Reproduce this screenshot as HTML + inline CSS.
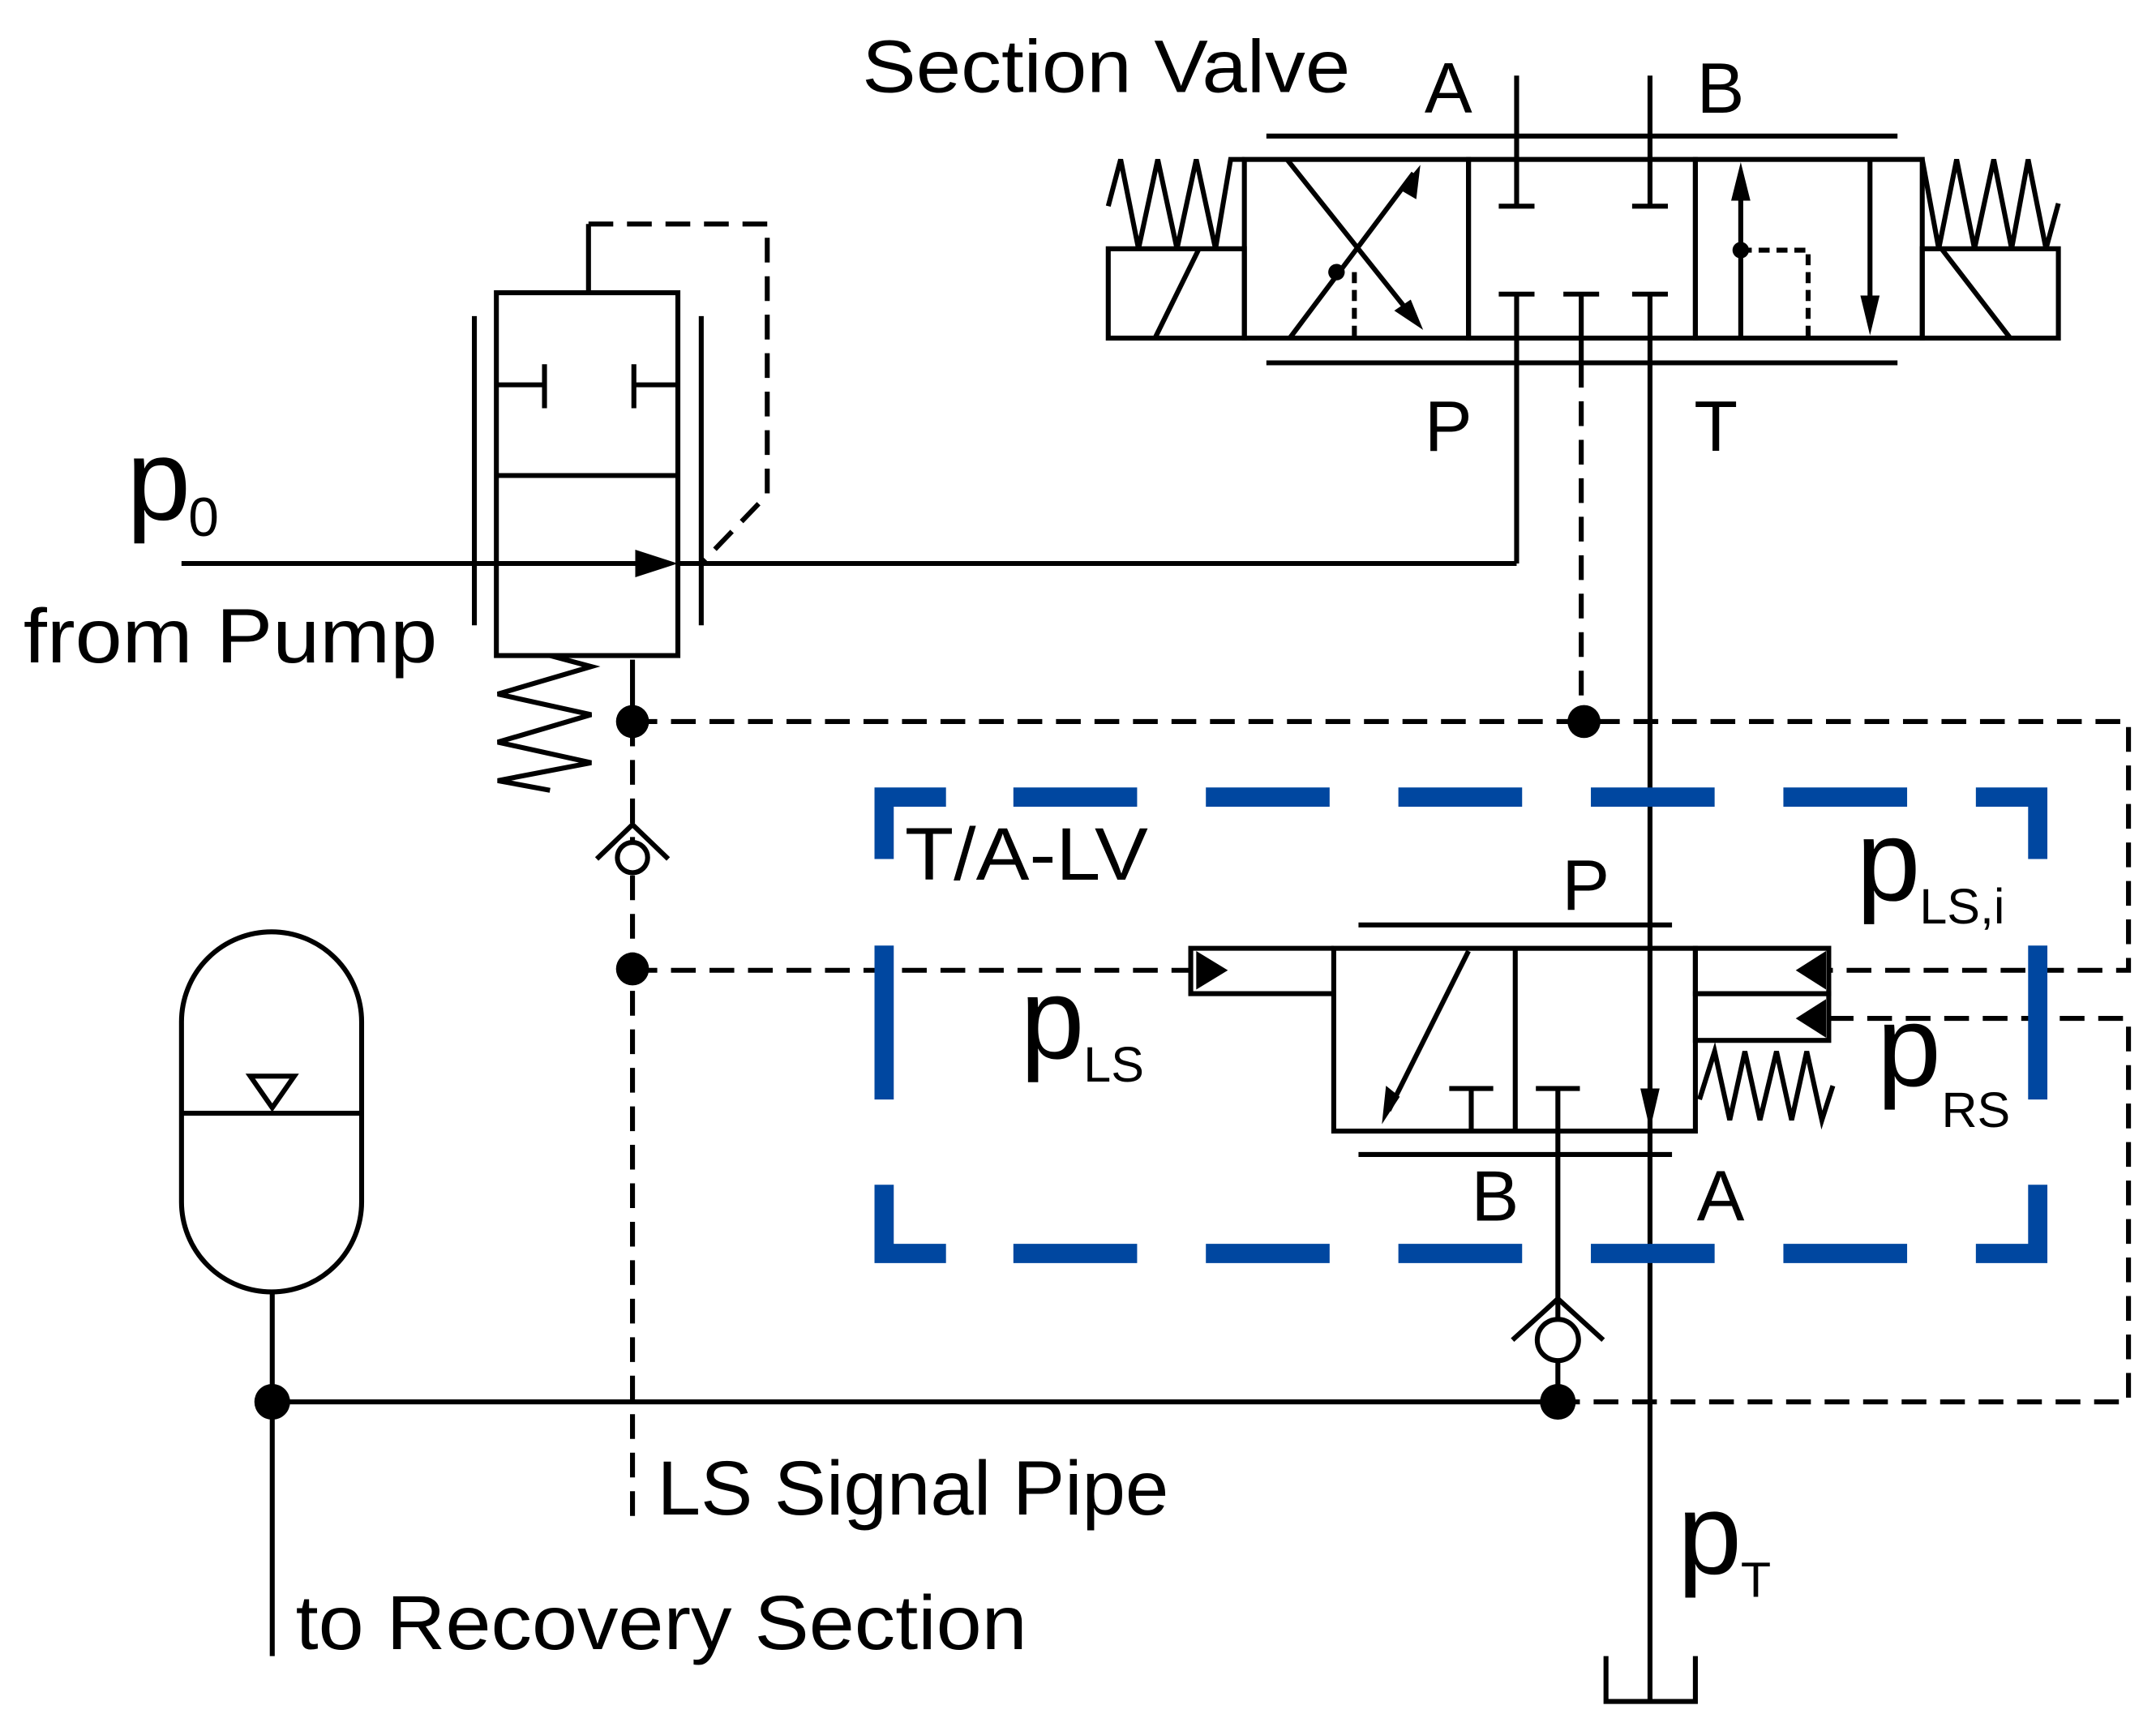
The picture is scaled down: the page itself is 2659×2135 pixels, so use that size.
<!DOCTYPE html>
<html><head><meta charset="utf-8"><style>
html,body{margin:0;padding:0;background:#fff}
svg{display:block}
text{font-family:"Liberation Sans",sans-serif;fill:#000}
</style></head><body>
<svg width="2659" height="2135" viewBox="0 0 1568 1259.5" preserveAspectRatio="none" xmlns="http://www.w3.org/2000/svg">
<g fill="none" stroke="#000" stroke-width="3.6">
<rect x="806" y="181" width="99" height="65"/>
<rect x="905" y="116" width="163" height="130"/>
<rect x="1068" y="116" width="165" height="130"/>
<rect x="1233" y="116" width="165" height="130"/>
<rect x="1398" y="181" width="99" height="65"/>
<polyline points="806,150 815,116 828,181 842,116 856,181 870,116 884,181 895,116 905,116"/>
<line x1="840" y1="246" x2="872" y2="181"/>
<polyline points="1398,116 1410,181 1423,116 1436,181 1450,116 1463,181 1475,116 1488,181 1497,148"/>
<line x1="1412" y1="181" x2="1462" y2="246"/>
<line x1="921" y1="99" x2="1380" y2="99"/>
<line x1="921" y1="264" x2="1380" y2="264"/>
<line x1="1103" y1="55" x2="1103" y2="150"/><line x1="1090" y1="150" x2="1116" y2="150"/>
<line x1="1200" y1="55" x2="1200" y2="150"/><line x1="1187" y1="150" x2="1213" y2="150"/>
<line x1="1103" y1="214" x2="1103" y2="410"/><line x1="1090" y1="214" x2="1116" y2="214"/>
<line x1="1150" y1="214" x2="1150" y2="264"/><line x1="1137" y1="214" x2="1163" y2="214"/>
<line x1="1200" y1="214" x2="1200" y2="1238"/><line x1="1187" y1="214" x2="1213" y2="214"/>
<line x1="936" y1="116" x2="1030" y2="234"/>
<line x1="938" y1="246" x2="1028" y2="126"/>
<line x1="985" y1="198" x2="985" y2="246" stroke-dasharray="8,5"/>
<line x1="1266" y1="130" x2="1266" y2="246"/>
<polyline points="1266,182 1315,182 1315,246" stroke-dasharray="8,5"/>
<line x1="1360" y1="116" x2="1360" y2="232"/>
<rect x="361" y="213" width="132" height="264"/>
<line x1="361" y1="346" x2="493" y2="346"/>
<line x1="428" y1="163" x2="428" y2="213"/>
<line x1="361" y1="280" x2="396" y2="280"/><line x1="396" y1="265" x2="396" y2="297"/>
<line x1="493" y1="280" x2="461" y2="280"/><line x1="461" y1="265" x2="461" y2="297"/>
<line x1="345" y1="230" x2="345" y2="455"/><line x1="510" y1="230" x2="510" y2="455"/>
<line x1="132" y1="410" x2="470" y2="410"/>
<line x1="493" y1="410" x2="1103" y2="410"/>
<polyline points="428,163 558,163 558,360 510,410" stroke-dasharray="18,10"/>
<polyline points="400,477 430,485 362,505 430,520 362,540 430,555 362,568 400,575"/>
<line x1="460" y1="480" x2="460" y2="525"/>
<line x1="460" y1="525" x2="460" y2="1105" stroke-dasharray="18,10"/>
<polyline points="460,525 1548,525 1548,706 1330,706" stroke-dasharray="18,10"/>
<line x1="1150" y1="264" x2="1150" y2="525" stroke-dasharray="18,10"/>
<line x1="460" y1="706" x2="866" y2="706" stroke-dasharray="18,10"/>
<polyline points="1330,741 1548,741 1548,1020 1133,1020" stroke-dasharray="18,10"/>
<polyline points="434,625 460,600 486,625"/>
<rect x="970" y="690" width="263" height="133"/>
<line x1="1102" y1="690" x2="1102" y2="823"/>
<polyline points="970,690 866,690 866,723 970,723"/>
<rect x="1233" y="690" width="97" height="33"/>
<rect x="1233" y="723" width="97" height="34"/>
<polyline points="1236,800 1247,765 1258,815 1269,765 1280,815 1292,765 1303,815 1314,765 1325,815 1333,790"/>
<line x1="988" y1="673" x2="1216" y2="673"/>
<line x1="988" y1="840" x2="1216" y2="840"/>
<line x1="1068" y1="692" x2="1010" y2="808"/>
<line x1="1070" y1="792" x2="1070" y2="823"/><line x1="1054" y1="792" x2="1086" y2="792"/>
<line x1="1133" y1="792" x2="1133" y2="1020"/><line x1="1117" y1="792" x2="1149" y2="792"/>
<polyline points="1100,975 1133,945 1166,975"/>
<rect x="132" y="678" width="131" height="262" rx="65.5" ry="65.5"/>
<line x1="132" y1="810" x2="263" y2="810"/>
<polygon points="182,783 214,783 198,806"/>
<line x1="198" y1="940" x2="198" y2="1205"/>
<line x1="198" y1="1020" x2="1133" y2="1020"/>
<polyline points="1168,1205 1168,1238 1233,1238 1233,1205"/>
</g>
<g fill="none" stroke="#0047a0" stroke-width="14">
<polyline points="643,625 643,580 688,580"/>
<polyline points="1437,580 1482,580 1482,625"/>
<polyline points="643,862 643,912 688,912"/>
<polyline points="1437,912 1482,912 1482,862"/>
<path d="M737 580H827M877 580H967M1017 580H1107M1157 580H1247M1297 580H1387
M737 912H827M877 912H967M1017 912H1107M1157 912H1247M1297 912H1387
M643 688V800M1482 688V800"/>
</g>
<g fill="#000">
<circle cx="972" cy="198" r="6"/>
<circle cx="1266" cy="182" r="6"/>
<polygon points="1035,240 1014,226 1026,218"/>
<polygon points="1033,120 1030,145 1018,138"/>
<polygon points="1266,118 1259,146 1273,146"/>
<polygon points="1360,244 1353,215 1367,215"/>
<polygon points="493,410 462,400 462,420"/>
<circle cx="460" cy="525" r="12"/>
<circle cx="1152" cy="525" r="12"/>
<circle cx="460" cy="705" r="12"/>
<circle cx="198" cy="1020" r="13"/>
<circle cx="1133" cy="1020" r="13"/>
<polygon points="870,692 893,706 870,720"/>
<polygon points="1328,692 1306,706 1328,720"/>
<polygon points="1328,727 1306,741 1328,755"/>
<polygon points="1005,818 1008,790 1018,798"/>
<polygon points="1200,822 1193,792 1207,792"/>
</g>
<circle cx="460" cy="624" r="11" fill="#fff" stroke="#000" stroke-width="3.6"/>
<circle cx="1133" cy="975" r="15" fill="#fff" stroke="#000" stroke-width="3.6"/>
<text x="627" y="67" font-size="54" textLength="355" lengthAdjust="spacingAndGlyphs">Section Valve</text>
<text x="1036" y="82" font-size="52">A</text>
<text x="1234" y="82" font-size="52">B</text>
<text x="1036" y="328" font-size="52">P</text>
<text x="1232" y="328" font-size="52">T</text>
<text x="92" y="378" font-size="84">p</text><text x="137" y="390" font-size="40">0</text>
<text x="17" y="482" font-size="56" textLength="301" lengthAdjust="spacingAndGlyphs">from Pump</text>
<text x="658" y="640" font-size="54" textLength="177" lengthAdjust="spacingAndGlyphs">T/A-LV</text>
<text x="1136" y="662" font-size="52">P</text>
<text x="1350" y="655" font-size="84">p</text><text x="1396" y="672" font-size="36">LS,i</text>
<text x="742" y="770" font-size="84">p</text><text x="788" y="787" font-size="36">LS</text>
<text x="1365" y="790" font-size="84">p</text><text x="1412" y="820" font-size="36">RS</text>
<text x="1070" y="888" font-size="52">B</text>
<text x="1234" y="888" font-size="52">A</text>
<text x="478" y="1102" font-size="56" textLength="372" lengthAdjust="spacingAndGlyphs">LS Signal Pipe</text>
<text x="1220" y="1145" font-size="84">p</text><text x="1266" y="1162" font-size="36">T</text>
<text x="215" y="1200" font-size="56" textLength="532" lengthAdjust="spacingAndGlyphs">to Recovery Section</text>
</svg>
</body></html>
